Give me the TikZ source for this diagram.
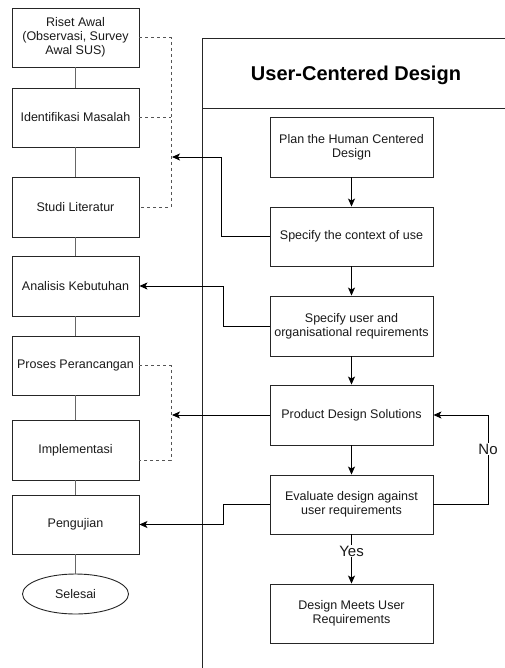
\documentclass[tikz,border=0pt]{standalone}
\usepackage{fontspec}
\setmainfont{Liberation Sans}
\usetikzlibrary{arrows.meta,shapes.geometric}
\definecolor{txt}{HTML}{1A1A1A}
\definecolor{linegray}{HTML}{666666}
\definecolor{dashgray}{HTML}{555555}
\begin{document}
\begin{tikzpicture}[x=1pt,y=-1pt,
  box/.style={draw=black!85, line width=0.9pt, rectangle, minimum width=127pt, inner sep=0pt, align=center, text=txt, font=\fontsize{12.5}{14}\selectfont},
  rbox/.style={draw=black!85, line width=0.9pt, rectangle, minimum width=163pt, inner sep=0pt, align=center, text=txt, font=\fontsize{12.5}{14}\selectfont},
  grayline/.style={draw=linegray, line width=1.1pt},
  dashline/.style={draw=dashgray, line width=0.9pt, dash pattern=on 3pt off 3pt},
  arr/.style={draw=black, line width=0.9pt, -{Stealth[length=8pt,width=7pt,inset=2pt]}},
  lbl/.style={fill=white, text=txt, inner sep=1pt, font=\fontsize{15}{17}\selectfont}
]
\useasboundingbox (0,0) rectangle (505,668);
\fill[white] (0,0) rectangle (505,668);

% container (swimlane)
\draw[draw=black!85, line width=0.9pt] (505,38) -- (202,38) -- (202,668);
\draw[draw=black!85, line width=0.9pt] (202,108) -- (505,108);
\node[text=black, font=\bfseries\fontsize{20}{22}\selectfont] (title) at (356,75) {User-Centered Design};

% left column
\node[box, minimum height=59pt] (b1) at (75.5,37.5) {Riset Awal\\(Observasi, Survey\\Awal SUS)};
\node[box, minimum height=59pt] (b2) at (75.5,117.5) {Identifikasi Masalah};
\node[box, minimum height=60pt] (b3) at (75.5,207) {Studi Literatur};
\node[box, minimum height=60pt] (b4) at (75.5,286) {Analisis Kebutuhan};
\node[box, minimum height=59pt] (b5) at (75.5,365.5) {Proses Perancangan};
\node[box, minimum height=60pt] (b6) at (75.5,450) {Implementasi};
\node[box, minimum height=59pt] (b7) at (75.5,524.5) {Pengujian};
\node[ellipse, draw=black!85, line width=0.9pt, minimum width=106pt, minimum height=40pt, inner sep=0pt, text=txt, font=\fontsize{12.5}{14}\selectfont] (end) at (75.5,594) {Selesai};

\draw[grayline] (b1) -- (b2);
\draw[grayline] (b2) -- (b3);
\draw[grayline] (b3) -- (b4);
\draw[grayline] (b4) -- (b5);
\draw[grayline] (b5) -- (b6);
\draw[grayline] (b6) -- (b7);
\draw[grayline] (b7) -- (end);

% right column
\node[rbox, minimum height=60pt] (A) at (351.5,147) {Plan the Human Centered\\Design};
\node[rbox, minimum height=59pt] (B) at (351.5,236.5) {Specify the context of use};
\node[rbox, minimum height=60pt] (C) at (351.5,326) {Specify user and\\organisational requirements};
\node[rbox, minimum height=60pt] (D) at (351.5,415) {Product Design Solutions};
\node[rbox, minimum height=59pt] (E) at (351.5,504.5) {Evaluate design against\\user requirements};
\node[rbox, minimum height=59pt] (F) at (351.5,613.5) {Design Meets User\\Requirements};

\draw[arr] (A) -- (B);
\draw[arr] (B) -- (C);
\draw[arr] (C) -- (D);
\draw[arr] (D) -- (E);
\draw[arr] (E) -- node[lbl, pos=0.34] (yes) {Yes} (F);

\coordinate (n1) at (488,415);
\draw[arr] (E.east) -| (n1) -- (D.east);
\node[lbl] (no) at (488,449) {No};

% dashed brackets
\coordinate (j1) at (171,37.5);
\coordinate (j3) at (171,207);
\draw[dashline] (b1.east) -- (j1) -- (j3) -- (b3.east);
\draw[dashline] (b2.east) -- (b2.east -| j1);

\coordinate (k1) at (171,365.5);
\coordinate (k2) at (171,460);
\draw[dashline] (b5.east) -- (k1) -- (k2) -- (b6.east |- k2);

% connectors from right to left
\coordinate (t1) at (172,157);
\coordinate (m1) at (221,157);
\draw[arr] (B.west) -| (m1) -- (t1);

\coordinate (m2) at (223,286);
\draw[arr] (C.west) -| (m2) -- (b4.east);

\coordinate (t2) at (172,415);
\draw[arr] (D.west) -- (t2);

\coordinate (m4) at (223,524.5);
\draw[arr] (E.west) -| (m4) -- (b7.east);
\end{tikzpicture}
\end{document}
